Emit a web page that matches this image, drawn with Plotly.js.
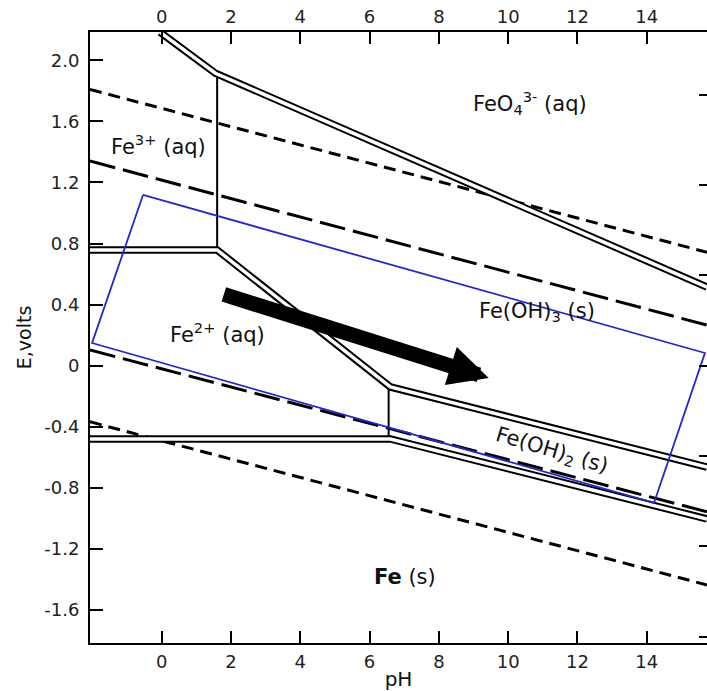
<!DOCTYPE html>
<html><head><meta charset="utf-8">
<script src="https://cdn.plot.ly/plotly-3.0.1.min.js"></script>
<style>html,body{margin:0;padding:0;background:#fff;} #chart{width:707px;height:691px;}</style>
</head><body><div id="chart"></div>
<script>
// ---- data read from the Pourbaix (E–pH) diagram of iron ----
const xRange = [-2.07, 15.74];
const yRange = [-1.815, 2.185];
const xTicks = [0, 2, 4, 6, 8, 10, 12, 14];
const xTickText = ['0', '2', '4', '6', '8', '10', '12', '14'];
const yTicks = [-1.6, -1.2, -0.8, -0.4, 0, 0.4, 0.8, 1.2, 1.6, 2.0];
const yTickText = ['-1.6', '-1.2', '-0.8', '-0.4', '0', '0.4', '0.8', '1.2', '1.6', '2.0'];
const peFactor = 0.05916;   // right-hand pe scale (ticks only)

// double-line stability boundaries
const feo4BoundaryPH = [-0.05, 1.55, 15.74];
const feo4BoundaryE  = [2.184, 1.915, 0.515];
const fe2UpperBoundaryPH = [-2.07, 1.6, 6.6, 15.74];
const fe2UpperBoundaryE  = [0.758, 0.758, -0.139, -0.663];
const feBoundaryPH = [-2.07, 6.6, 15.74];
const feBoundaryE  = [-0.479, -0.479, -1.003];

// single vertical boundaries
const fe3VerticalPH = [1.6, 1.6];
const fe3VerticalE  = [1.905, 0.758];
const feoh2VerticalPH = [6.55, 6.55];
const feoh2VerticalE  = [-0.139, -0.479];

// dashed reference lines
const dashEdgePH = [-2.07, 15.74];
const upperShortDashE = [1.809, 0.743];
const upperLongDashE  = [1.34, 0.266];
const lowerLongDashE  = [0.103, -0.956];
const lowerShortDashE = [-0.367, -1.435];

// blue field of natural waters
const waterBoxPH = [-0.54, 15.68, 14.21, -2.01, -0.54];
const waterBoxE  = [1.118, 0.0835, -0.898, 0.149, 1.118];

// arrow
const arrowStart = [1.75, 0.47];
const arrowEnd   = [9.44, -0.08];

// region labels
const labelText = ['FeO<sub>4</sub><sup>3-</sup> (aq)', 'Fe<sup>3+</sup> (aq)', 'Fe<sup>2+</sup> (aq)',
                   'Fe(OH)<sub>3</sub> (s)', 'Fe(OH)<sub>2</sub> (s)', '<b>Fe</b> (s)'];
const labelPH = [10.63, -0.1, 1.6, 10.84, 11.27, 7.03];
const labelE  = [1.72, 1.445, 0.215, 0.35, -0.555, -1.38];
const labelAngle = [0, 0, 0, 0, 16.5, 0];

// ---- build ----
const FONT = 'DejaVu Sans, Liberation Sans, Arial, sans-serif';
const traces = [];
function dashed(E, dash) {
  traces.push({x: dashEdgePH, y: E, mode: 'lines', line: {color: '#000', width: 3, dash: dash}});
}
dashed(upperShortDashE, '12px,7px');
dashed(upperLongDashE, '26px,8px');
dashed(lowerLongDashE, '26px,8px');
dashed(lowerShortDashE, '12px,7px');

[[fe3VerticalPH, fe3VerticalE], [feoh2VerticalPH, feoh2VerticalE]].forEach(function (p) {
  traces.push({x: p[0], y: p[1], mode: 'lines', line: {color: '#000', width: 2}});
});

const doubles = [[feo4BoundaryPH, feo4BoundaryE], [fe2UpperBoundaryPH, fe2UpperBoundaryE], [feBoundaryPH, feBoundaryE]];
doubles.forEach(function (p) {
  traces.push({x: p[0], y: p[1], mode: 'lines', line: {color: '#000', width: 7.5}});
});
doubles.forEach(function (p) {
  traces.push({x: p[0], y: p[1], mode: 'lines', line: {color: '#fff', width: 3.5}});
});

traces.push({x: waterBoxPH, y: waterBoxE, mode: 'lines', line: {color: '#2525d0', width: 1.8}});

// invisible carriers so the top pH axis and the right pe axis are drawn
traces.push({x: xRange, y: yRange, xaxis: 'x2', yaxis: 'y', mode: 'markers', marker: {opacity: 0}});
traces.push({x: xRange, y: [yRange[0] / peFactor, yRange[1] / peFactor], xaxis: 'x', yaxis: 'y2',
             mode: 'markers', marker: {opacity: 0}});

const annotations = labelText.map(function (t, i) {
  return {x: labelPH[i], y: labelE[i], xref: 'x', yref: 'y', text: t, showarrow: false,
          textangle: labelAngle[i], font: {family: FONT, size: 21, color: '#111'}};
});
annotations.push({
  x: arrowEnd[0], y: arrowEnd[1], ax: arrowStart[0], ay: arrowStart[1],
  xref: 'x', yref: 'y', axref: 'x', ayref: 'y', text: '', showarrow: true,
  arrowhead: 2, arrowsize: 0.53, arrowwidth: 15, arrowcolor: '#000', standoff: 0, startstandoff: 0
});

const tickFont = {family: FONT, size: 18, color: '#222'};
const layout = {
  width: 707, height: 691,
  margin: {l: 90, r: 0, t: 32, b: 48},
  paper_bgcolor: '#fff', plot_bgcolor: '#fff',
  showlegend: false, hovermode: false,
  xaxis: {range: xRange, tickvals: xTicks, ticktext: xTickText, ticks: 'inside', ticklen: 12, tickwidth: 2,
          tickcolor: '#000', showline: true, linewidth: 2, linecolor: '#000', showgrid: false, zeroline: false,
          tickfont: tickFont, ticklabelstandoff: 1,
          title: {text: 'pH', font: {family: FONT, size: 20, color: '#111'}, standoff: 2}},
  xaxis2: {range: xRange, overlaying: 'x', side: 'top', anchor: 'y', tickvals: xTicks, ticktext: xTickText,
           ticks: 'inside', ticklen: 12, tickwidth: 2, tickcolor: '#000', showline: true, linewidth: 2,
           linecolor: '#000', showgrid: false, zeroline: false, tickfont: tickFont, ticklabelstandoff: 0},
  yaxis: {range: yRange, tickvals: yTicks, ticktext: yTickText, ticks: 'inside', ticklen: 13, tickwidth: 2,
          tickcolor: '#000', showline: true, linewidth: 2, linecolor: '#000', showgrid: false, zeroline: false,
          tickfont: tickFont, ticklabelstandoff: 5,
          title: {text: 'E,volts', font: {family: FONT, size: 19, color: '#111'}, standoff: 8}},
  yaxis2: {range: [yRange[0] / peFactor, yRange[1] / peFactor], overlaying: 'y', side: 'right', anchor: 'x',
           tick0: 0, dtick: 10, ticks: 'inside', ticklen: 8, tickwidth: 2, tickcolor: '#000',
           showticklabels: false, showline: false, showgrid: false, zeroline: false},
  annotations: annotations
};
Plotly.newPlot('chart', traces, layout, {staticPlot: true, displayModeBar: false});
</script>
</body></html>
